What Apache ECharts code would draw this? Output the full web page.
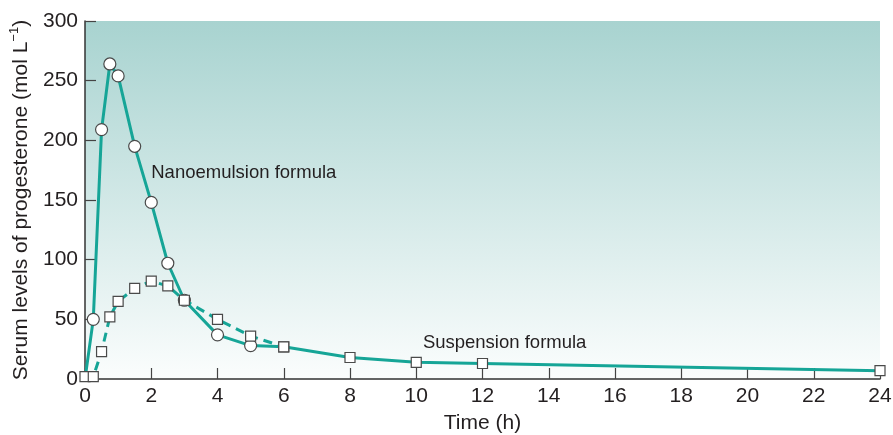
<!DOCTYPE html>
<html>
<head>
<meta charset="utf-8">
<script src="https://cdn.jsdelivr.net/npm/echarts@6/dist/echarts.min.js"></script>
<style>
  html, body { margin: 0; padding: 0; background: #fff; }
  #chart { width: 893px; height: 435px; }
</style>
</head>
<body>
<div id="chart"></div>
<script>
// Serum progesterone over time: nanoemulsion vs suspension formula.
const nanoTime = [0, 0.25, 0.5, 0.75, 1, 1.5, 2, 2.5, 3, 4, 5, 6];
const nanoLevel = [0, 50, 209, 264, 254, 195, 148, 97, 66, 37, 28, 27];
const suspTime = [0, 0.25, 0.5, 0.75, 1, 1.5, 2, 2.5, 3, 4, 5, 6, 8, 10, 12, 24];
const suspLevel = [2, 2, 23, 52, 65, 76, 82, 78, 66, 50, 36, 27, 18, 14, 13, 7];
const xTicks = [0, 24, 2];   // min, max, step
const yTicks = [0, 300, 50];

const TEAL = "#16a597";
const FONT = "Liberation Sans, Arial, Helvetica, sans-serif";
const TXT = "#231f20";

// nano: no marker at t=0 (square covers it) or at t=6 (joins the suspension curve)
const nanoData = nanoTime.map((t, i) => {
  const p = { value: [t, nanoLevel[i]] };
  if (i === 0 || t === 6) p.symbol = "none";
  return p;
});
const suspDashed = suspTime.map((t, i) => [t, suspLevel[i]]).filter((p) => p[0] <= 6);
const suspSolid = suspTime.map((t, i) => [t, suspLevel[i]]).filter((p) => p[0] >= 6);

const squareStyle = { color: "#fff", borderColor: "#4a4a4a", borderWidth: 1.2 };
const chart = echarts.init(document.getElementById("chart"));
chart.setOption({
  animation: false,
  textStyle: { fontFamily: FONT },
  grid: {
    left: 85, right: 13, top: 21, bottom: 56, show: true, borderWidth: 0,
    containLabel: false, outerBoundsMode: "none",
    backgroundColor: { type: "linear", x: 0, y: 0, x2: 0, y2: 1,
      colorStops: [{ offset: 0, color: "#a8d3d0" }, { offset: 1, color: "#fbfdfd" }] },
  },
  xAxis: {
    type: "value", min: xTicks[0], max: xTicks[1], interval: xTicks[2],
    name: "Time (h)", nameLocation: "middle", nameGap: 34,
    nameTextStyle: { fontSize: 21, color: TXT, fontFamily: FONT },
    axisLine: { lineStyle: { color: "#333", width: 1.5 } },
    axisTick: { inside: true, length: 11, lineStyle: { color: "#444", width: 1.2 } },
    axisLabel: { fontSize: 21, color: TXT, margin: 7, fontFamily: FONT },
    splitLine: { show: false },
  },
  yAxis: {
    type: "value", min: yTicks[0], max: yTicks[1], interval: yTicks[2],
    name: "{a|Serum levels of progesterone (mol L}{b|−1}{a|)}",
    nameLocation: "middle", nameGap: 52,
    nameTextStyle: {
      color: TXT, fontFamily: FONT,
      rich: {
        a: { fontSize: 21, lineHeight: 26, color: TXT, fontFamily: FONT, verticalAlign: "bottom" },
        b: { fontSize: 13, lineHeight: 26, color: TXT, fontFamily: FONT, verticalAlign: "top", padding: [2, 0, 0, 0] },
      },
    },
    axisLine: { show: true, lineStyle: { color: "#333", width: 1.5 } },
    axisTick: { show: true, inside: true, length: 11, lineStyle: { color: "#444", width: 1.2 } },
    axisLabel: { fontSize: 21, color: TXT, margin: 7, fontFamily: FONT },
    splitLine: { show: false },
  },
  series: [
    {
      name: "Nanoemulsion formula", type: "line", data: nanoData, z: 3,
      symbol: "circle", symbolSize: 12,
      lineStyle: { color: TEAL, width: 3 },
      itemStyle: { color: "#fff", borderColor: "#4a4a4a", borderWidth: 1.2 },
      markPoint: {
        symbol: "circle", symbolSize: 0,
        label: { show: true, position: "right", distance: 0, fontSize: 18.5, color: TXT, fontFamily: FONT, formatter: "Nanoemulsion formula" },
        data: [{ coord: [2, 173] }],
      },
    },
    {
      name: "Suspension formula", type: "line", data: suspDashed, z: 4,
      symbol: "rect", symbolSize: 10,
      lineStyle: { color: TEAL, width: 3, type: [9, 6] },
      itemStyle: squareStyle,
    },
    {
      name: "Suspension formula tail", type: "line", data: suspSolid, z: 4,
      symbol: "rect", symbolSize: 10,
      lineStyle: { color: TEAL, width: 3 },
      itemStyle: squareStyle,
      markPoint: {
        symbol: "circle", symbolSize: 0,
        label: { show: true, position: "right", distance: 0, fontSize: 18.5, color: TXT, fontFamily: FONT, formatter: "Suspension formula" },
        data: [{ coord: [10.2, 30] }],
      },
    },
  ],
});
</script>
</body>
</html>
